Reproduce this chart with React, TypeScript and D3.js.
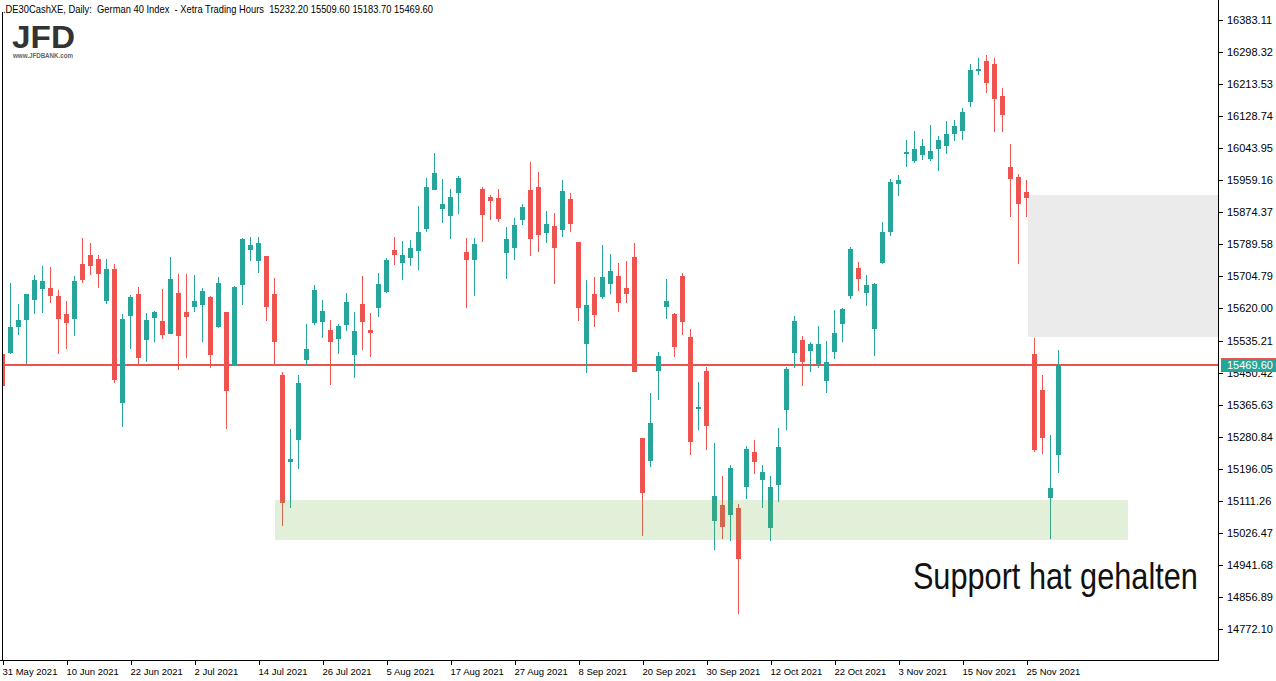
import React from 'react';
import * as d3 from 'd3';

// Daily candles, 31 May 2021 .. 1 Dec 2021 (index = trading day)
const openP = [
  15500, 15502, 15571, 15590, 15642, 15672, 15674, 15653, 15605, 15592,
  15738, 15762, 15751, 15640, 15724, 15370, 15600, 15658, 15537, 15595,
  15587, 15553, 15661, 15611, 15624, 15629, 15650, 15571, 15611, 15470,
  15682, 15775, 15746, 15759, 15658, 15444, 15214, 15272, 15484, 15582,
  15584, 15563, 15539, 15576, 15497, 15632, 15563, 15621, 15664, 15775,
  15740, 15754, 15772, 15830, 15934, 15883, 15865, 15926, 15769, 15748,
  15936, 15915, 15912, 15767, 15780, 15854, 15934, 15941, 15820, 15838,
  15828, 15910, 15796, 15526, 15658, 15650, 15685, 15706, 15674, 15756,
  15277, 15217, 15455, 15624, 15605, 15706, 15545, 15354, 15455, 15058,
  15100, 15074, 15092, 15148, 15240, 15166, 15040, 15153, 15352, 15502,
  15537, 15508, 15473, 15428, 15505, 15579, 15653, 15727, 15661, 15566,
  15740, 15822, 15949, 16029, 16010, 16026, 16015, 16042, 16050, 16082,
  16090, 16166, 16248, 16275, 16267, 16182, 15994, 15968, 15928, 15500,
  15404, 15119, 15232.2,
];
const highP = [
  15505, 15687, 15632, 15658, 15709, 15732, 15730, 15669, 15640, 15706,
  15806, 15793, 15762, 15751, 15738, 15605, 15656, 15677, 15608, 15614,
  15672, 15756, 15711, 15711, 15709, 15674, 15653, 15703, 15611, 15680,
  15806, 15809, 15809, 15759, 15701, 15452, 15301, 15444, 15579, 15682,
  15642, 15590, 15579, 15661, 15611, 15706, 15608, 15714, 15754, 15809,
  15799, 15801, 15891, 15965, 16031, 15963, 15936, 15971, 15806, 15806,
  15941, 15920, 15936, 15836, 15859, 15896, 16008, 15981, 15878, 15873,
  15960, 15926, 15796, 15695, 15703, 15788, 15764, 15740, 15746, 15793,
  15277, 15396, 15505, 15698, 15608, 15714, 15566, 15426, 15465, 15264,
  15177, 15206, 15103, 15256, 15272, 15206, 15177, 15304, 15465, 15600,
  15547, 15532, 15574, 15534, 15616, 15621, 15783, 15743, 15709, 15687,
  15849, 15963, 15973, 16066, 16090, 16068, 16105, 16076, 16116, 16119,
  16150, 16267, 16283, 16291, 16283, 16203, 16055, 15976, 15960, 15542,
  15444, 15285, 15509.6,
];
const lowP = [
  15386, 15500, 15550, 15473, 15605, 15608, 15634, 15500, 15513, 15547,
  15687, 15709, 15674, 15632, 15423, 15307, 15513, 15473, 15478, 15532,
  15539, 15553, 15457, 15489, 15611, 15532, 15463, 15568, 15301, 15470,
  15629, 15746, 15714, 15587, 15470, 15045, 15092, 15195, 15470, 15576,
  15542, 15418, 15500, 15560, 15436, 15510, 15492, 15597, 15661, 15735,
  15695, 15732, 15722, 15822, 15934, 15846, 15804, 15870, 15621, 15653,
  15796, 15854, 15849, 15698, 15748, 15841, 15759, 15769, 15793, 15685,
  15809, 15822, 15587, 15449, 15571, 15645, 15658, 15611, 15634, 15452,
  15018, 15201, 15378, 15592, 15492, 15550, 15232, 15298, 15246, 14981,
  15010, 15005, 14813, 15116, 15182, 15092, 15005, 15108, 15298, 15463,
  15415, 15452, 15463, 15396, 15486, 15530, 15645, 15666, 15627, 15494,
  15738, 15811, 15918, 15994, 16005, 16013, 16010, 15984, 16029, 16063,
  16066, 16153, 16238, 16190, 16087, 16087, 15862, 15738, 15862, 15240,
  15235, 15010, 15183.7,
];
const closeP = [
  15415, 15571, 15590, 15658, 15695, 15692, 15653, 15592, 15582, 15692,
  15695, 15732, 15711, 15724, 15431, 15592, 15650, 15489, 15590, 15611,
  15550, 15698, 15547, 15597, 15640, 15666, 15497, 15687, 15402, 15677,
  15804, 15788, 15793, 15624, 15530, 15106, 15222, 15423, 15513, 15669,
  15614, 15530, 15574, 15637, 15560, 15584, 15555, 15685, 15748, 15762,
  15762, 15780, 15822, 15941, 15978, 15896, 15915, 15965, 15748, 15791,
  15867, 15904, 15857, 15804, 15841, 15889, 15804, 15814, 15844, 15780,
  15931, 15844, 15621, 15629, 15603, 15703, 15719, 15634, 15658, 15452,
  15132, 15317, 15494, 15640, 15518, 15584, 15267, 15359, 15309, 15124,
  15042, 15198, 14957, 15248, 15214, 15188, 15148, 15254, 15460, 15587,
  15478, 15526, 15526, 15478, 15555, 15619, 15777, 15698, 15682, 15685,
  15822, 15955, 15960, 16034, 16042, 16050, 16037, 16066, 16082, 16103,
  16140, 16251, 16254, 16217, 16174, 16132, 15963, 15896, 15912, 15246,
  15277, 15145, 15469.6,
];

const xTickIndex = [0, 8, 16, 24, 32, 40, 48, 56, 64, 72, 80, 88, 96, 104, 112, 120, 128];
const xTickLabels = [
  '31 May 2021', '10 Jun 2021', '22 Jun 2021', '2 Jul 2021', '14 Jul 2021', '26 Jul 2021',
  '5 Aug 2021', '17 Aug 2021', '27 Aug 2021', '8 Sep 2021', '20 Sep 2021', '30 Sep 2021',
  '12 Oct 2021', '22 Oct 2021', '3 Nov 2021', '15 Nov 2021', '25 Nov 2021',
];
const yTickValues = [
  16383.11, 16298.32, 16213.53, 16128.74, 16043.95, 15959.16, 15874.37, 15789.58, 15704.79,
  15620.0, 15535.21, 15450.42, 15365.63, 15280.84, 15196.05, 15111.26, 15026.47, 14941.68,
  14856.89, 14772.1,
];

const lastPrice = 15469.6;
const supportLow = 15008;
const supportHigh = 15113;
const supportFrom = 34;
const supportTo = 140.7;
const gapLow = 15545;
const gapHigh = 15920;
const gapFrom = 128.2;
const annotation = 'Support hat gehalten';
const annotationIndex = 113.8;
const annotationPrice = 14877;
const headerText =
  '.DE30CashXE, Daily:  German 40 Index  - Xetra Trading Hours  15232.20 15509.60 15183.70 15469.60';

const UP = '#26a69a';
const DOWN = '#ef5350';

export default function App() {
  const W = 1276;
  const H = 681;
  const plotRight = 1218;
  const plotBottom = 660;
  const x = d3.scaleLinear().domain([0, 1]).range([2.5, 10.5]);
  const y = d3.scaleLinear().domain([14772.1, 16383.11]).range([629, 20]);
  const font = "'Liberation Sans', Arial, sans-serif";

  const candles = openP.map((o, i) => {
    const c = closeP[i];
    const hi = highP[i];
    const lo = lowP[i];
    const cx = x(i);
    const up = c >= o;
    const top = Math.round(y(Math.max(o, c)));
    const bot = Math.round(y(Math.min(o, c)));
    const wTop = Math.round(y(hi));
    const wBot = Math.round(y(lo));
    const col = up ? UP : DOWN;
    return (
      <g key={i}>
        <rect x={cx - 0.5} y={wTop} width={1} height={Math.max(1, wBot - wTop)} fill={col} />
        <rect x={cx - 2.5} y={top} width={5} height={Math.max(1, bot - top)} fill={col} />
      </g>
    );
  });

  const lastY = y(lastPrice);

  return (
    <div style={{ position: 'absolute', left: 0, top: 0, width: W, height: H, background: '#fff' }}>
      <svg width={W} height={H} style={{ display: 'block' }} shapeRendering="crispEdges">
        <defs>
          <clipPath id="plot">
            <rect x={3} y={0} width={plotRight - 3} height={plotBottom} />
          </clipPath>
        </defs>
        <rect x={0} y={0} width={W} height={H} fill="#fff" />
        <g clipPath="url(#plot)">
          <rect
            x={x(gapFrom)}
            y={y(gapHigh)}
            width={plotRight - x(gapFrom)}
            height={y(gapLow) - y(gapHigh)}
            fill="#ebebeb"
          />
          <rect x={0} y={Math.round(lastY)} width={plotRight} height={1} fill={UP} />
          <rect x={0} y={Math.round(lastY) - 1} width={plotRight} height={1} fill={DOWN} />
          {candles}
          <rect
            x={x(supportFrom)}
            y={y(supportHigh)}
            width={x(supportTo) - x(supportFrom)}
            height={y(supportLow) - y(supportHigh)}
            fill="rgb(110,175,65)"
            fillOpacity={0.2}
          />
        </g>
        {/* frame */}
        <line x1={2.5} y1={12} x2={2.5} y2={plotBottom} stroke="#000" strokeWidth={1} />
        <line x1={0} y1={plotBottom + 0.5} x2={plotRight + 1} y2={plotBottom + 0.5} stroke="#000" />
        <line x1={plotRight + 0.5} y1={0} x2={plotRight + 0.5} y2={plotBottom + 1} stroke="#000" />
        {/* y axis */}
        {yTickValues.map((v, k) => {
          const ty = Math.round(y(v)) + 0.5;
          return (
            <g key={k}>
              <line x1={plotRight + 1} x2={plotRight + 5} y1={ty} y2={ty} stroke="#000" />
              <text
                x={1227}
                y={ty}
                dy="0.35em"
                fontFamily={font}
                fontSize={11}
                fill="#000"
              >
                {v.toFixed(2)}
              </text>
            </g>
          );
        })}
        <rect x={1221} y={Math.round(lastY) - 7} width={56} height={14} fill={UP} />
        <rect x={1221} y={Math.round(lastY) - 7} width={56} height={1} fill={DOWN} />
        <text x={1227} y={lastY} dy="0.35em" fontFamily={font} fontSize={11} fill="#fff">
          {lastPrice.toFixed(2)}
        </text>
        {/* x axis */}
        {xTickIndex.map((idx, k) => {
          const tx = Math.round(x(idx)) + 0.5;
          return (
            <g key={k}>
              <line x1={tx} x2={tx} y1={plotBottom + 1} y2={plotBottom + 5} stroke="#000" />
              <text x={tx - 1} y={674.5} fontFamily={font} fontSize={9.5} fill="#000">
                {xTickLabels[k]}
              </text>
            </g>
          );
        })}
        {/* header */}
        <text
          x={3}
          y={13.3}
          fontFamily={font}
          fontSize={10.5}
          fill="#000"
          textLength={430}
          lengthAdjust="spacingAndGlyphs"
          style={{ whiteSpace: 'pre' }}
        >
          {headerText}
        </text>
        {/* logo */}
        <text
          x={12}
          y={48}
          fontFamily={font}
          fontWeight={700}
          fontSize={32}
          fill="#333"
          textLength={63}
          lengthAdjust="spacingAndGlyphs"
        >
          JFD
        </text>
        <text
          x={13}
          y={57.5}
          fontFamily={font}
          fontWeight={700}
          fontSize={6.5}
          fill="#666"
          textLength={60}
          lengthAdjust="spacingAndGlyphs"
        >
          www.JFDBANK.com
        </text>
        {/* annotation */}
        <text
          x={x(annotationIndex)}
          y={y(annotationPrice)}
          fontFamily={font}
          fontSize={36}
          fill="#111"
          textLength={285}
          lengthAdjust="spacingAndGlyphs"
        >
          {annotation}
        </text>
      </svg>
    </div>
  );
}
